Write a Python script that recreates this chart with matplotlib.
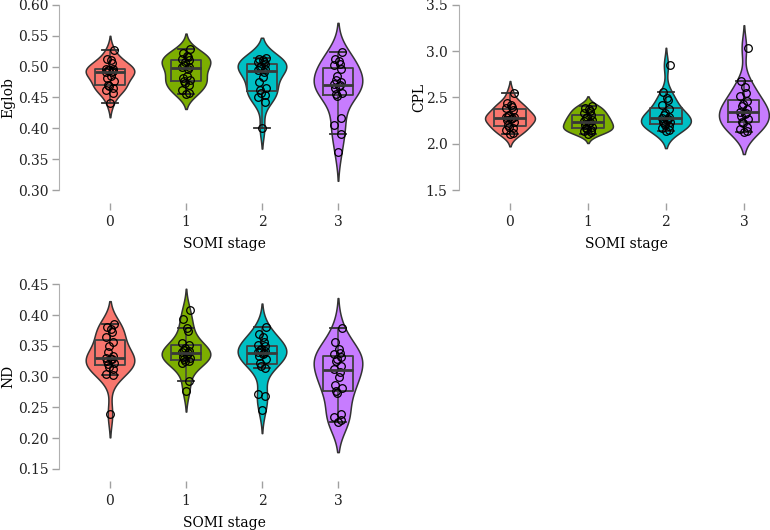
import numpy as np
import pandas as pd
import matplotlib
matplotlib.use("Agg")
import matplotlib.pyplot as plt
import seaborn as sns

# SOMI stages and values (20 subjects per stage)
stages = [0, 1, 2, 3]
palette = ["#F8766D", "#7CAE00", "#00BFC4", "#C77CFF"]

eglob = {
    0: [0.441, 0.458, 0.462, 0.465, 0.468, 0.470, 0.476, 0.481, 0.485, 0.491,
        0.492, 0.493, 0.494, 0.495, 0.496, 0.497, 0.506, 0.510, 0.512, 0.527],
    1: [0.456, 0.458, 0.462, 0.470, 0.474, 0.477, 0.479, 0.481, 0.485, 0.497,
        0.499, 0.500, 0.503, 0.508, 0.511, 0.513, 0.516, 0.518, 0.522, 0.529],
    2: [0.400, 0.443, 0.451, 0.454, 0.458, 0.462, 0.465, 0.475, 0.484, 0.491,
        0.495, 0.497, 0.499, 0.501, 0.504, 0.507, 0.508, 0.511, 0.512, 0.514],
    3: [0.362, 0.391, 0.405, 0.416, 0.452, 0.455, 0.458, 0.465, 0.468, 0.470,
        0.472, 0.475, 0.478, 0.485, 0.496, 0.502, 0.505, 0.509, 0.513, 0.524],
}
cpl = {
    0: [2.10, 2.12, 2.15, 2.17, 2.18, 2.20, 2.24, 2.26, 2.27, 2.28,
        2.285, 2.29, 2.30, 2.31, 2.365, 2.39, 2.40, 2.42, 2.44, 2.55],
    1: [2.11, 2.13, 2.14, 2.15, 2.16, 2.17, 2.18, 2.20, 2.22, 2.23,
        2.245, 2.26, 2.28, 2.29, 2.31, 2.33, 2.35, 2.38, 2.39, 2.41],
    2: [2.14, 2.15, 2.17, 2.19, 2.20, 2.22, 2.23, 2.24, 2.26, 2.27,
        2.28, 2.29, 2.31, 2.33, 2.38, 2.42, 2.47, 2.49, 2.56, 2.85],
    3: [2.13, 2.14, 2.16, 2.18, 2.22, 2.24, 2.27, 2.30, 2.32, 2.335,
        2.345, 2.38, 2.41, 2.43, 2.46, 2.52, 2.55, 2.61, 2.68, 3.04],
}
nd = {
    0: [0.239, 0.302, 0.304, 0.312, 0.316, 0.320, 0.322, 0.325, 0.328, 0.329,
        0.331, 0.333, 0.340, 0.349, 0.357, 0.365, 0.373, 0.378, 0.381, 0.385],
    1: [0.277, 0.293, 0.322, 0.325, 0.326, 0.328, 0.330, 0.332, 0.335, 0.338,
        0.340, 0.341, 0.343, 0.347, 0.351, 0.354, 0.374, 0.379, 0.394, 0.409],
    2: [0.246, 0.269, 0.271, 0.314, 0.317, 0.322, 0.328, 0.334, 0.336, 0.338,
        0.340, 0.341, 0.343, 0.345, 0.349, 0.352, 0.356, 0.365, 0.370, 0.381],
    3: [0.226, 0.230, 0.235, 0.240, 0.274, 0.277, 0.281, 0.287, 0.300, 0.308,
        0.312, 0.318, 0.326, 0.328, 0.332, 0.336, 0.339, 0.345, 0.357, 0.379],
}

eglob_ticks = [0.30, 0.35, 0.40, 0.45, 0.50, 0.55, 0.60]
cpl_ticks = [1.5, 2.0, 2.5, 3.0, 3.5]
nd_ticks = [0.15, 0.20, 0.25, 0.30, 0.35, 0.40, 0.45]

plt.rcParams['font.family'] = ['DejaVu Serif']
plt.rcParams['font.size'] = 10

fig = plt.figure(figsize=(7.7, 5.3), dpi=100)

# fixed jitter pattern for the points (positions only)
jit = 0.05 * np.sin(np.arange(20) * 2.39)


def panel(rect, data, name, ticks, fmt, ylab_x):
    ax = fig.add_axes(rect)
    df = pd.DataFrame([(s, v) for s in stages for v in data[s]],
                      columns=["stage", name])
    sns.violinplot(data=df, x="stage", y=name, hue="stage", palette=palette,
                   inner=None, density_norm="width", width=0.64,
                   linecolor="#333333", linewidth=1.1, saturation=1,
                   legend=False, ax=ax)
    ax.boxplot([data[s] for s in stages], positions=range(len(stages)),
               widths=0.4, showfliers=False,
               boxprops=dict(color="#404040", linewidth=1.3),
               whiskerprops=dict(color="#404040", linewidth=1.1),
               capprops=dict(color="#303030", linewidth=1.3),
               medianprops=dict(color="#383838", linewidth=2.0))
    for i, s in enumerate(stages):
        ax.plot(i + jit, data[s], "o", mfc="none", mec="black",
                ms=5.5, mew=0.9)
    ax.set_xlim(-0.5, 3.5)
    ax.set_ylim(ticks[0], ticks[-1])
    ax.set_xticks(range(len(stages)))
    ax.set_xticklabels([str(s) for s in stages])
    ax.set_yticks(ticks)
    ax.set_yticklabels([fmt % t for t in ticks])
    ax.set_xlabel("SOMI stage", labelpad=6)
    ax.set_ylabel(name)
    ax.yaxis.set_label_coords(ylab_x, 0.5)
    for side in ["top", "right", "bottom"]:
        ax.spines[side].set_visible(False)
    ax.spines["left"].set_position(("outward", 9))
    ax.spines["bottom"].set_position(("outward", 9))
    ax.spines["left"].set_color("#b0b0b0")
    ax.spines["left"].set_bounds(ticks[0], ticks[-1])
    ax.tick_params(axis="both", colors="#a0a0a0", labelcolor="#222222",
                   length=5, width=1)
    ax.tick_params(axis="x", pad=4)
    ax.tick_params(axis="y", pad=3)
    return ax


panel([0.0935, 0.6415, 0.3948, 0.3491], eglob, "Eglob", eglob_ticks, "%.2f", -0.185)
panel([0.6117, 0.6415, 0.405, 0.3491], cpl, "CPL", cpl_ticks, "%.1f", -0.145)
panel([0.0935, 0.1151, 0.3948, 0.3485], nd, "ND", nd_ticks, "%.2f", -0.185)

fig.savefig("out.png", dpi=100)
